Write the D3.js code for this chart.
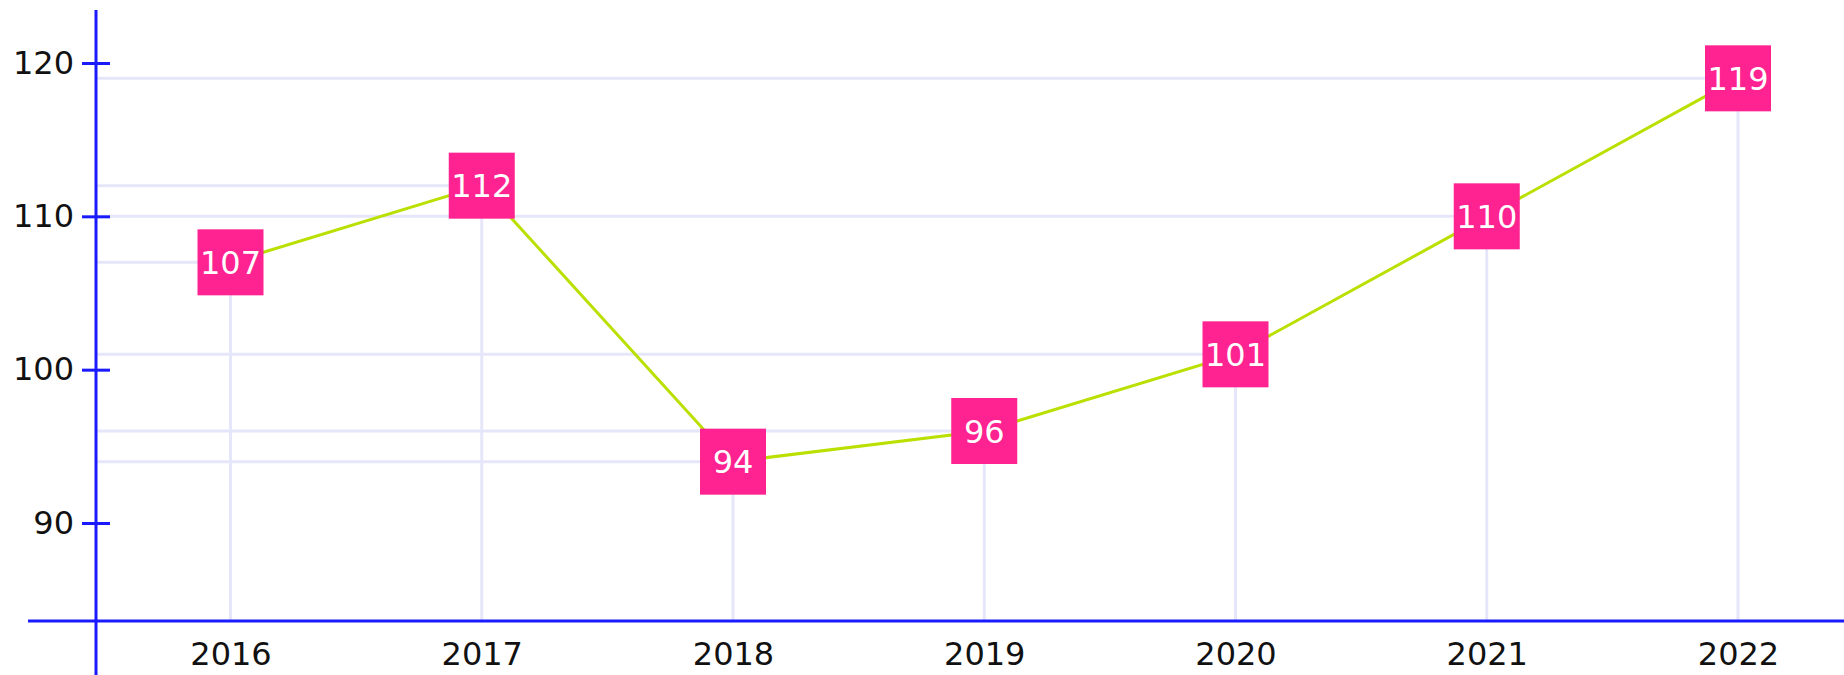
<!DOCTYPE html>
<html>
<head>
<meta charset="utf-8">
<script src="https://cdn.jsdelivr.net/npm/d3@7"></script>
<style>
  body { margin: 0; background: #fff; }
  text { font-family: "DejaVu Sans", Verdana, sans-serif; }
</style>
</head>
<body>
<svg id="container"></svg>
<script>
const years = [2016, 2017, 2018, 2019, 2020, 2021, 2022];
const values = [107, 112, 94, 96, 101, 110, 119];
const yTicks = [90, 100, 110, 120];

const width = 1844;
const height = 675;
const axisX = 96;      // where the y axis sits
const axisY = 621;     // where the x axis sits
const boxSize = 66;
const fontSize = 32;
const lineColor = "#b9e000";
const boxColor = "#ff2291";
const axisColor = "#1a1aff";
const gridColor = "#e6e6fa";

const svg = d3.select("#container")
  .attr("width", width)
  .attr("height", height);

const x = d3.scaleLinear()
  .domain([2016, 2022])
  .range([230.5, 1738]);
const y = d3.scaleLinear()
  .domain([90, 120])
  .range([523, 63]);

const points = years.map((yr, i) => ({ year: yr, value: values[i] }));

// drop lines to both axes
const grid = svg.append("g")
  .attr("stroke", gridColor)
  .attr("stroke-width", 3);
grid.selectAll(".hdrop")
  .data(points)
  .join("line")
  .attr("class", "hdrop")
  .attr("x1", axisX)
  .attr("x2", d => x(d.year))
  .attr("y1", d => y(d.value))
  .attr("y2", d => y(d.value));
grid.selectAll(".vdrop")
  .data(points)
  .join("line")
  .attr("class", "vdrop")
  .attr("x1", d => x(d.year))
  .attr("x2", d => x(d.year))
  .attr("y1", d => y(d.value))
  .attr("y2", axisY);

// x axis
const xAxis = svg.append("g")
  .attr("transform", `translate(0,${axisY})`)
  .call(d3.axisBottom(x).tickValues(years).tickFormat(d3.format("d")).tickSize(0).tickPadding(21));
xAxis.select(".domain").remove();
xAxis.append("line")
  .attr("x1", 28).attr("x2", width)
  .attr("stroke", axisColor).attr("stroke-width", 3);
xAxis.selectAll(".tick text")
  .attr("fill", "#111")
  .attr("font-size", fontSize);

// y axis
const yAxis = svg.append("g")
  .attr("transform", `translate(${axisX},0)`)
  .call(d3.axisLeft(y).tickValues(yTicks).tickSize(14));
yAxis.select(".domain").remove();
yAxis.append("line")
  .attr("y1", 10).attr("y2", height)
  .attr("stroke", axisColor).attr("stroke-width", 3);
yAxis.selectAll(".tick line")
  .attr("x1", -14).attr("x2", 14)
  .attr("stroke", axisColor).attr("stroke-width", 3);
yAxis.selectAll(".tick text")
  .attr("x", -22)
  .attr("fill", "#111")
  .attr("font-size", fontSize);

// the series line
const line = d3.line()
  .x(d => x(d.year))
  .y(d => y(d.value));
svg.append("path")
  .datum(points)
  .attr("d", line)
  .attr("fill", "none")
  .attr("stroke", lineColor)
  .attr("stroke-width", 3);

// square markers with value labels
const marks = svg.selectAll(".mark")
  .data(points)
  .join("g")
  .attr("class", "mark")
  .attr("transform", d => `translate(${x(d.year)},${y(d.value)})`);
marks.append("rect")
  .attr("x", -boxSize / 2)
  .attr("y", -boxSize / 2)
  .attr("width", boxSize)
  .attr("height", boxSize)
  .attr("fill", boxColor);
marks.append("text")
  .attr("text-anchor", "middle")
  .attr("dy", "0.36em")
  .attr("fill", "#fff")
  .attr("font-size", fontSize)
  .text(d => d.value);
</script>
</body>
</html>
